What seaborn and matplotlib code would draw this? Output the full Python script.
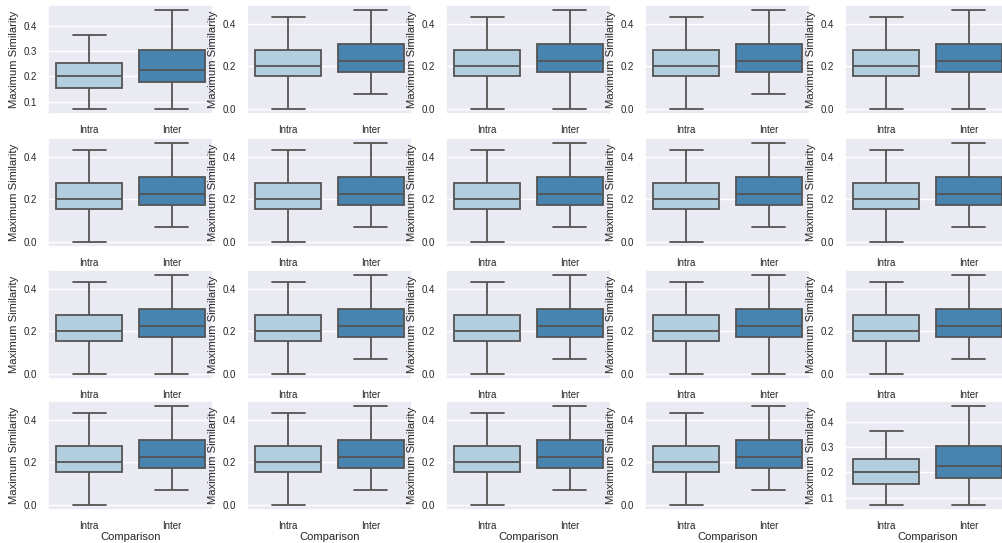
import matplotlib
matplotlib.use("Agg")
import matplotlib.pyplot as plt
from matplotlib.ticker import MultipleLocator
import seaborn as sns
import pandas as pd

# categories
groups = ["Intra", "Inter"]

# five-number summaries (min, q1, median, q3, max), one per panel
intra_short = [0.07, 0.155, 0.20, 0.252, 0.365]
intra_full = [0.0, 0.155, 0.20, 0.278, 0.43]
inter_low = [0.07, 0.176, 0.226, 0.305, 0.465]
inter_zero = [0.0, 0.176, 0.226, 0.305, 0.465]

intra_vals = [
    intra_short, intra_full, intra_full, intra_full, intra_full,
    intra_full, intra_full, intra_full, intra_full, intra_full,
    intra_full, intra_full, intra_full, intra_full, intra_full,
    intra_full, intra_full, intra_full, intra_full, intra_short,
]
inter_vals = [
    inter_low, inter_low, inter_zero, inter_low, inter_zero,
    inter_low, inter_low, inter_low, inter_low, inter_low,
    inter_zero, inter_low, inter_low, inter_zero, inter_low,
    inter_low, inter_low, inter_low, inter_low, inter_low,
]

sns.set_theme(style="darkgrid")
plt.rcParams["font.family"] = ["Liberation Sans", "DejaVu Sans"]

W, H = 1002, 543
fig = plt.figure(figsize=(W / 100, H / 100), dpi=100)

col_left = [48, 247, 446, 645, 845]
row_top = [5, 138, 270, 401]
ax_w, ax_h = 165, 109

for i in range(20):
    r, c = divmod(i, 5)
    ax = fig.add_axes([col_left[c] / W, 1 - (row_top[r] + ax_h) / H, ax_w / W, ax_h / H])
    df = pd.DataFrame({
        "Comparison": [groups[0]] * len(intra_vals[i]) + [groups[1]] * len(inter_vals[i]),
        "Maximum Similarity": intra_vals[i] + inter_vals[i],
    })
    sns.boxplot(data=df, x="Comparison", y="Maximum Similarity", hue="Comparison",
                palette="Blues", ax=ax, legend=False, linewidth=1.3,
                linecolor="0.33", order=groups)
    # the reference uses 0.1 steps only where nothing reaches zero
    step = 0.1 if df["Maximum Similarity"].min() > 0.03 else 0.2
    ax.yaxis.set_major_locator(MultipleLocator(step))
    ax.tick_params(labelsize=7, pad=2)
    ax.set_ylabel("Maximum Similarity", fontsize=8.1, labelpad=3)
    if r == 3:
        ax.set_xlabel("Comparison", fontsize=8.1, labelpad=1)
    else:
        ax.set_xlabel("")

fig.savefig("out.png", dpi=100)
